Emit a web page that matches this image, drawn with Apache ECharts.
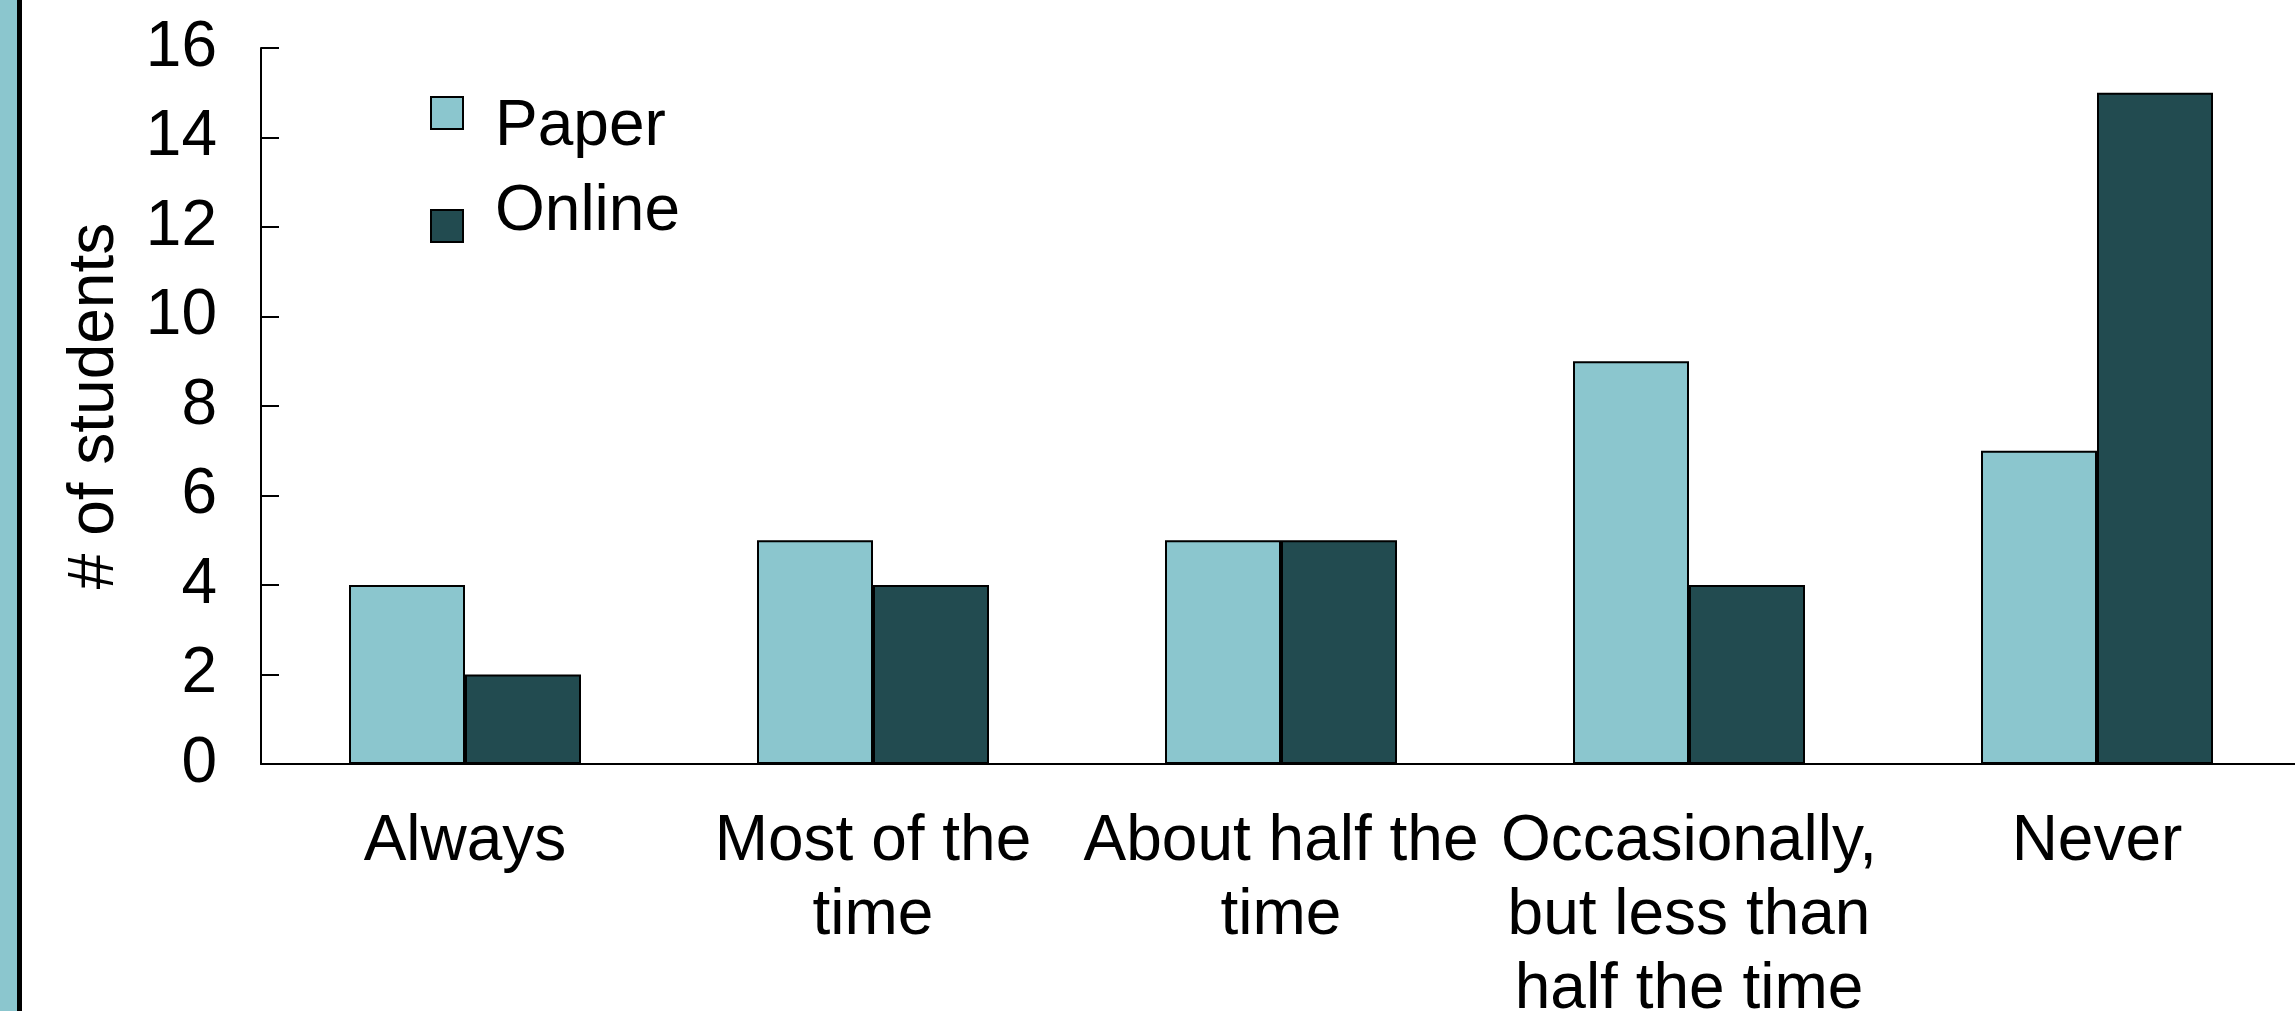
<!DOCTYPE html>
<html>
<head>
<meta charset="utf-8">
<script src="https://cdn.jsdelivr.net/npm/echarts@6/dist/echarts.min.js"></script>
<style>
html,body{margin:0;padding:0;background:#fff;}
#chart{width:2295px;height:1011px;}
</style>
</head>
<body>
<div id="chart"></div>
<script>
const categories = ['Always', 'Most of the\ntime', 'About half the\ntime', 'Occasionally,\nbut less than\nhalf the time', 'Never'];
const paperValues = [4, 5, 5, 9, 7];
const onlineValues = [2, 4, 5, 4, 15];
const seriesNames = ['Paper', 'Online'];
const yAxisName = '# of students';

const FONT = '"Liberation Sans", Arial, sans-serif';
const chart = echarts.init(document.getElementById('chart'), null, {renderer: 'canvas'});
chart.setOption({
  backgroundColor: '#ffffff',
  animation: false,
  textStyle: {fontFamily: FONT},
  graphic: [
    {type: 'rect', left: 0, top: 0, shape: {width: 17, height: 1011}, style: {fill: '#8BC6CE'}},
    {type: 'rect', left: 17, top: 0, shape: {width: 5, height: 1011}, style: {fill: '#000000'}}
  ],
  legend: {
    orient: 'vertical',
    left: 425,
    top: 72,
    icon: 'rect',
    itemWidth: 32,
    itemHeight: 32,
    itemGap: 21,
    data: seriesNames,
    itemStyle: {borderColor: '#000', borderWidth: 2},
    formatter: function (name) {
      return name === seriesNames[0] ? '{s| }\n{t|' + name + '}' : '{t|' + name + '}\n{s| }';
    },
    textStyle: {
      fontSize: 64, color: '#000', fontFamily: FONT, padding: [0, 0, 0, 27],
      rich: {
        s: {fontSize: 2, lineHeight: 28},
        t: {fontSize: 64, lineHeight: 70, color: '#000', fontFamily: FONT}
      }
    }
  },
  grid: {left: 261, top: 48, width: 2040, height: 716, containLabel: false, outerBoundsMode: 'none'},
  xAxis: {
    type: 'category',
    data: categories,
    axisLine: {lineStyle: {color: '#000', width: 2}},
    axisTick: {show: false},
    axisLabel: {fontSize: 64, lineHeight: 74, color: '#000', margin: 41, interval: 0, fontFamily: FONT}
  },
  yAxis: {
    type: 'value',
    min: 0, max: 16, interval: 2,
    name: yAxisName,
    nameLocation: 'middle',
    nameGap: 134,
    nameTextStyle: {fontSize: 64, color: '#000', fontFamily: FONT},
    axisLine: {show: true, lineStyle: {color: '#000', width: 2}},
    axisTick: {show: true, inside: true, length: 18, lineStyle: {color: '#000', width: 2}},
    axisLabel: {fontSize: 64, color: '#000', margin: 44, fontFamily: FONT},
    splitLine: {show: false}
  },
  series: [
    {
      name: seriesNames[0], type: 'bar', data: paperValues,
      barWidth: 116, barGap: '0%',
      itemStyle: {color: '#8BC6CE', borderColor: '#000', borderWidth: 2}
    },
    {
      name: seriesNames[1], type: 'bar', data: onlineValues,
      barWidth: 116, barGap: '0%',
      itemStyle: {color: '#224B50', borderColor: '#000', borderWidth: 2}
    }
  ]
});
</script>
</body>
</html>
